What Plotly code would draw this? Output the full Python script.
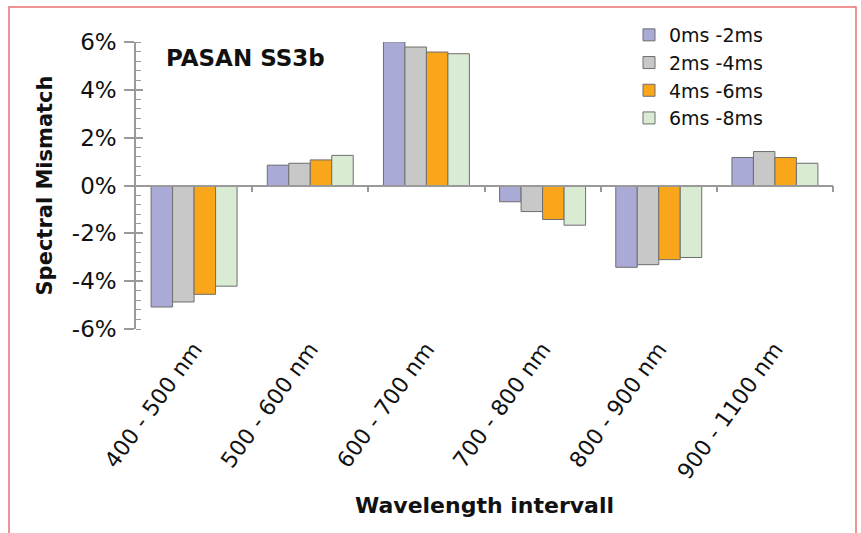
import plotly.graph_objects as go

categories = ["400 - 500 nm", "500 - 600 nm", "600 - 700 nm", "700 - 800 nm", "800 - 900 nm", "900 - 1100 nm"]
series_names = ["0ms -2ms", "2ms -4ms", "4ms -6ms", "6ms -8ms"]
s0_2 = [-5.08, 0.85, 6.01, -0.68, -3.42, 1.17]
s2_4 = [-4.87, 0.93, 5.79, -1.09, -3.31, 1.42]
s4_6 = [-4.55, 1.07, 5.58, -1.42, -3.10, 1.17]
s6_8 = [-4.21, 1.26, 5.51, -1.66, -3.01, 0.93]
series_values = [s0_2, s2_4, s4_6, s6_8]
colors = ["#aaaad6", "#c8c8c8", "#f9a61a", "#d9ebd3"]
y_ticks = [-6, -4, -2, 0, 2, 4, 6]
y_ticktext = ["-6%", "-4%", "-2%", "0%", "2%", "4%", "6%"]

FONT = "DejaVu Sans"
TXT = "#111111"
AX = "#9a9a9a"

fig = go.Figure()
for name, vals, col in zip(series_names, series_values, colors):
    fig.add_trace(go.Bar(
        x=categories, y=vals, name=name,
        marker=dict(color=col, line=dict(color="#6e6e6e", width=1)),
    ))

# empty helper traces to activate the overlay axes (zero line ticks, inner major ticks)
fig.add_trace(go.Scatter(x=[None], y=[None], yaxis="y2", showlegend=False, hoverinfo="skip"))
fig.add_trace(go.Scatter(x=[None], y=[None], xaxis="x2", showlegend=False, hoverinfo="skip"))

L, R, T, B = 136, 28, 42, 204
W, H = 861, 533
pw = W - L - R
ph = H - T - B

def px(x):
    return (x - L) / pw

def py(y):
    return (H - B - y) / ph

fig.update_layout(
    width=W, height=H,
    margin=dict(l=L, r=R, t=T, b=B),
    paper_bgcolor="white", plot_bgcolor="white",
    barmode="group", bargap=0.26, bargroupgap=0,
    font=dict(family=FONT, color=TXT, size=21),
    showlegend=True,
    legend=dict(
        x=px(629), y=py(16), xanchor="left", yanchor="top",
        font=dict(family=FONT, size=19, color=TXT),
        bgcolor="rgba(0,0,0,0)", tracegroupgap=0,
        itemwidth=30,
    ),
    xaxis=dict(
        type="category", categoryorder="array", categoryarray=categories,
        showline=False, ticks="", showgrid=False, zeroline=False,
        tickangle=-54, tickfont=dict(family=FONT, size=22, color=TXT),
        ticklabelstandoff=2,
        title=dict(text="<b>Wavelength intervall</b>", font=dict(family=FONT, size=22, color=TXT), standoff=14),
    ),
    xaxis2=dict(
        overlaying="x", anchor="free", position=0.5,
        range=[-0.5, 5.5], tickmode="array", tickvals=[0.5, 1.5, 2.5, 3.5, 4.5, 5.5],
        showticklabels=False, ticks="outside", ticklen=6, tickcolor=AX, tickwidth=1.5,
        showline=True, linecolor=AX, linewidth=1.5, showgrid=False, zeroline=False,
    ),
    yaxis=dict(
        range=[-6, 6], tickmode="array", tickvals=y_ticks, ticktext=y_ticktext,
        showline=True, linecolor=AX, linewidth=1.5, showgrid=False, zeroline=False,
        ticks="outside", ticklen=10, tickcolor=AX, tickwidth=1.5,
        ticklabelstandoff=3,
        minor=dict(dtick=0.4, tick0=-6, ticks="inside", ticklen=5, tickcolor=AX, tickwidth=1),
        tickfont=dict(family=FONT, size=23, color=TXT),
        title=dict(text="<b>Spectral Mismatch</b>", font=dict(family=FONT, size=21, color=TXT), standoff=14),
    ),
    yaxis2=dict(
        overlaying="y", side="left", anchor="x", range=[-6, 6],
        tickmode="array", tickvals=y_ticks, showticklabels=False,
        ticks="inside", ticklen=7, tickcolor=AX, tickwidth=1.5,
        showline=False, showgrid=False, zeroline=False,
    ),
    annotations=[dict(
        text="<b>PASAN SS3b</b>", x=px(164), y=py(58), xref="paper", yref="paper",
        xanchor="left", yanchor="middle", showarrow=False,
        font=dict(family=FONT, size=23, color=TXT),
    )],
    shapes=[dict(
        type="rect", xref="paper", yref="paper",
        x0=px(9), x1=px(856), y0=py(545), y1=py(7),
        line=dict(color="#ec7070", width=1.5), fillcolor="rgba(0,0,0,0)", layer="below",
    )],
)

fig.write_html("out.html")
